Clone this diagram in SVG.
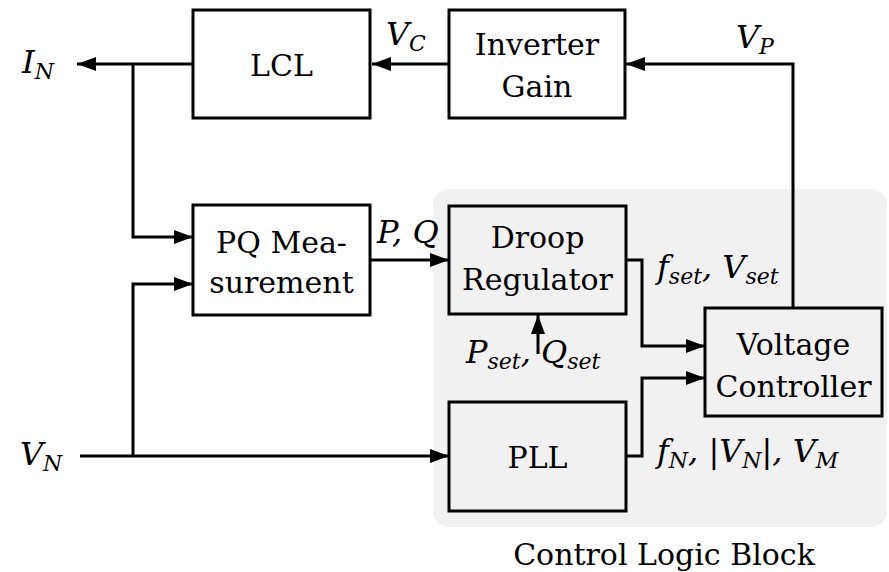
<svg xmlns="http://www.w3.org/2000/svg" width="889" height="572" viewBox="0 0 889 572">
<style>
.box{fill:none;stroke:#000;stroke-width:3}
.t{font-family:"DejaVu Serif","Liberation Serif",serif;font-size:30px;fill:#000;text-anchor:middle}
.m{font-family:"DejaVu Serif","Liberation Serif",serif;font-size:32px;font-style:italic;fill:#000}
.s{font-size:22px}
.c{fill:none;stroke:#000;stroke-width:3}
</style>
<defs>
<marker id="ah" markerUnits="userSpaceOnUse" markerWidth="20" markerHeight="14" refX="19" refY="7" orient="auto">
<path d="M0,0 L19,7 L0,14 z" fill="#000"/>
</marker>
</defs>
<rect x="433" y="189" width="454" height="338" rx="16" ry="16" fill="#f1f1f1"/>
<g id="lcl"><rect class="box" x="193" y="10" width="177" height="108"/><text class="t" x="281.5" y="76">LCL</text></g>
<g id="inverter"><rect class="box" x="449" y="10" width="176" height="108"/><text class="t" x="537" y="55">Inverter</text><text class="t" x="537" y="97">Gain</text></g>
<g id="pq"><rect class="box" x="193" y="205" width="177" height="110"/><text class="t" x="281.5" y="253">PQ Mea-</text><text class="t" x="281.5" y="293">surement</text></g>
<g id="droop"><rect class="box" x="449" y="206" width="177" height="108"/><text class="t" x="537.5" y="248">Droop</text><text class="t" x="537.5" y="290">Regulator</text></g>
<g id="vc"><rect class="box" x="705" y="308" width="177" height="108"/><text class="t" x="793.5" y="355">Voltage</text><text class="t" x="793.5" y="397">Controller</text></g>
<g id="pll"><rect class="box" x="449" y="402" width="177" height="109"/><text class="t" x="537.5" y="468">PLL</text></g>
<g id="connectors">
<path class="c" d="M449,64 H372" marker-end="url(#ah)"/>
<path class="c" d="M193,64 H77" marker-end="url(#ah)"/>
<path class="c" d="M133,64 V237 H193" marker-end="url(#ah)"/>
<path class="c" d="M80,456 H449" marker-end="url(#ah)"/>
<path class="c" d="M133,456 V284 H193" marker-end="url(#ah)"/>
<path class="c" d="M370,260 H449" marker-end="url(#ah)"/>
<path class="c" d="M626,260 H642 V346 H705" marker-end="url(#ah)"/>
<path class="c" d="M626,456 H642 V378 H705" marker-end="url(#ah)"/>
<path class="c" d="M793,308 V64 H626" marker-end="url(#ah)"/>
<path class="c" d="M538,354 V315" marker-end="url(#ah)"/>
</g>
<g id="labels">
<text class="m" x="22" y="73">I<tspan class="s" dy="6">N</tspan></text>
<text class="m" x="386" y="45">V<tspan class="s" dy="6">C</tspan></text>
<text class="m" x="736" y="48">V<tspan class="s" dy="6">P</tspan></text>
<text class="m" x="377" y="243">P, Q</text>
<text class="m" x="657" y="278">f<tspan class="s" dy="6">set</tspan><tspan dy="-6">, V</tspan><tspan class="s" dy="6">set</tspan></text>
<text class="m" x="466" y="363">P<tspan class="s" dy="6">set</tspan><tspan dy="-6">, Q</tspan><tspan class="s" dy="6">set</tspan></text>
<text class="m" x="657" y="462">f<tspan class="s" dy="6">N</tspan><tspan dy="-6">, |V</tspan><tspan class="s" dy="6">N</tspan><tspan dy="-6">|, V</tspan><tspan class="s" dy="6">M</tspan></text>
<text class="m" x="20" y="465">V<tspan class="s" dy="6">N</tspan></text>
<text class="t" x="664" y="565">Control Logic Block</text>
</g>
</svg>
